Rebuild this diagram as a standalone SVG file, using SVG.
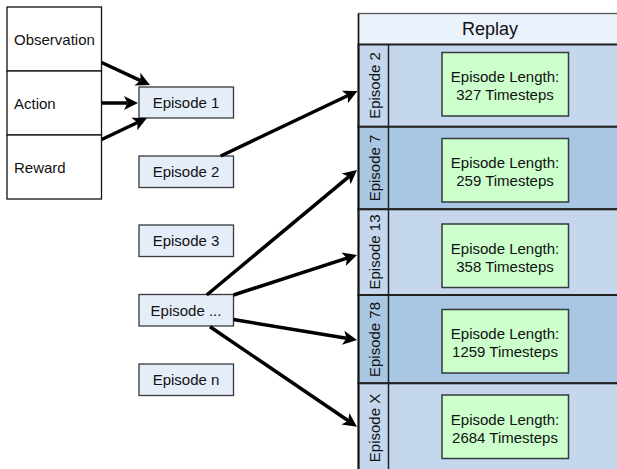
<svg xmlns="http://www.w3.org/2000/svg" width="617" height="469" viewBox="0 0 617 469">
<style>
text{font-family:"Liberation Sans",Arial,sans-serif;font-size:15px;fill:#111}
.ep{fill:#E5EDF9;stroke:#36393d;stroke-width:1.3}
.cell{fill:#ffffff;stroke:#111;stroke-width:1.3}
.rowA{fill:#C4D7EC;stroke:#222;stroke-width:2}
.rowB{fill:#A9C6E2;stroke:#222;stroke-width:2}
.green{fill:#CCFFCC;stroke:#36393d;stroke-width:1.5}
.c{text-anchor:middle}
.arr{stroke:#000;stroke-width:3.5;fill:none;marker-end:url(#ah)}
</style>
<defs>
<marker id="ah" markerUnits="userSpaceOnUse" markerWidth="16" markerHeight="16" viewBox="0 -8 16 16" refX="3.5" refY="0" orient="auto" overflow="visible">
<path d="M0,-7 L14,0 L0,7 L3.5,0 Z" fill="#000"/>
</marker>
</defs>
<g id="inputs">
<rect class="cell" x="7" y="7" width="94.5" height="64"/>
<rect class="cell" x="7" y="71" width="94.5" height="64"/>
<rect class="cell" x="7" y="135" width="94.5" height="64"/>
<text x="14" y="45">Observation</text>
<text x="14" y="108.5">Action</text>
<text x="14" y="173">Reward</text>
</g>
<g id="episode1"><rect class="ep" x="139" y="87" width="94.5" height="31"/><text class="c" x="186" y="108">Episode 1</text></g>
<g id="episode2"><rect class="ep" x="139" y="156" width="94.5" height="31.5"/><text class="c" x="186" y="177">Episode 2</text></g>
<g id="episode3"><rect class="ep" x="139" y="225" width="94.5" height="31.5"/><text class="c" x="186" y="246">Episode 3</text></g>
<g id="episodeDots"><rect class="ep" x="139" y="294.5" width="94.5" height="31.5"/><text class="c" x="186" y="315.5">Episode ...</text></g>
<g id="episodeN"><rect class="ep" x="139" y="364" width="94.5" height="31.5"/><text class="c" x="186" y="385">Episode n</text></g>
<g id="replay">
<rect x="358.5" y="13.5" width="265" height="31" fill="#EAF2FC" stroke="#555" stroke-width="1.3"/>
<text class="c" x="490" y="35" style="font-size:18px">Replay</text>
<rect class="rowA" x="358.5" y="44.5" width="265" height="82.3"/>
<rect class="rowB" x="358.5" y="126.8" width="265" height="82.5"/>
<rect class="rowA" x="358.5" y="209.3" width="265" height="85.7"/>
<rect class="rowB" x="358.5" y="295" width="265" height="88.3"/>
<rect class="rowA" x="358.5" y="383.3" width="265" height="95"/>
<line x1="388.5" y1="44.5" x2="388.5" y2="475" stroke="#222" stroke-width="1.5"/>
<line x1="358.5" y1="13.5" x2="358.5" y2="475" stroke="#111" stroke-width="1.5"/>
</g>
<g id="row1"><text class="c" transform="translate(380,85.5) rotate(-90)">Episode 2</text><rect class="green" x="442" y="52.5" width="126.5" height="63.5"/><text class="c" x="505" y="82">Episode Length:</text><text class="c" x="505" y="100">327 Timesteps</text></g>
<g id="row2"><text class="c" transform="translate(380,168) rotate(-90)">Episode 7</text><rect class="green" x="442" y="138.5" width="126.5" height="63.5"/><text class="c" x="505" y="168">Episode Length:</text><text class="c" x="505" y="186">259 Timesteps</text></g>
<g id="row3"><text class="c" transform="translate(380,252) rotate(-90)">Episode 13</text><rect class="green" x="442" y="224" width="126.5" height="63.5"/><text class="c" x="505" y="253.5">Episode Length:</text><text class="c" x="505" y="271.5">358 Timesteps</text></g>
<g id="row4"><text class="c" transform="translate(380,339.5) rotate(-90)">Episode 78</text><rect class="green" x="442" y="309.5" width="126.5" height="63.5"/><text class="c" x="505" y="339">Episode Length:</text><text class="c" x="505" y="357">1259 Timesteps</text></g>
<g id="row5"><text class="c" transform="translate(380,428) rotate(-90)">Episode X</text><rect class="green" x="442" y="395" width="126.5" height="63.5"/><text class="c" x="505" y="424.5">Episode Length:</text><text class="c" x="505" y="442.5">2684 Timesteps</text></g>
<g id="connectors">
<line class="arr" x1="101.7" y1="62.5" x2="140.5" y2="80.6"/>
<line class="arr" x1="101.7" y1="103" x2="127.5" y2="103"/>
<line class="arr" x1="101.7" y1="139.5" x2="137.5" y2="122.5"/>
<line class="arr" x1="220.7" y1="156" x2="348" y2="95.5"/>
<line class="arr" x1="206.7" y1="295" x2="348.9" y2="176.7"/>
<line class="arr" x1="233.5" y1="295" x2="347" y2="258.2"/>
<line class="arr" x1="233.5" y1="319.5" x2="346.6" y2="338.3"/>
<line class="arr" x1="210" y1="326.7" x2="348.3" y2="420.8"/>
</g>
</svg>
